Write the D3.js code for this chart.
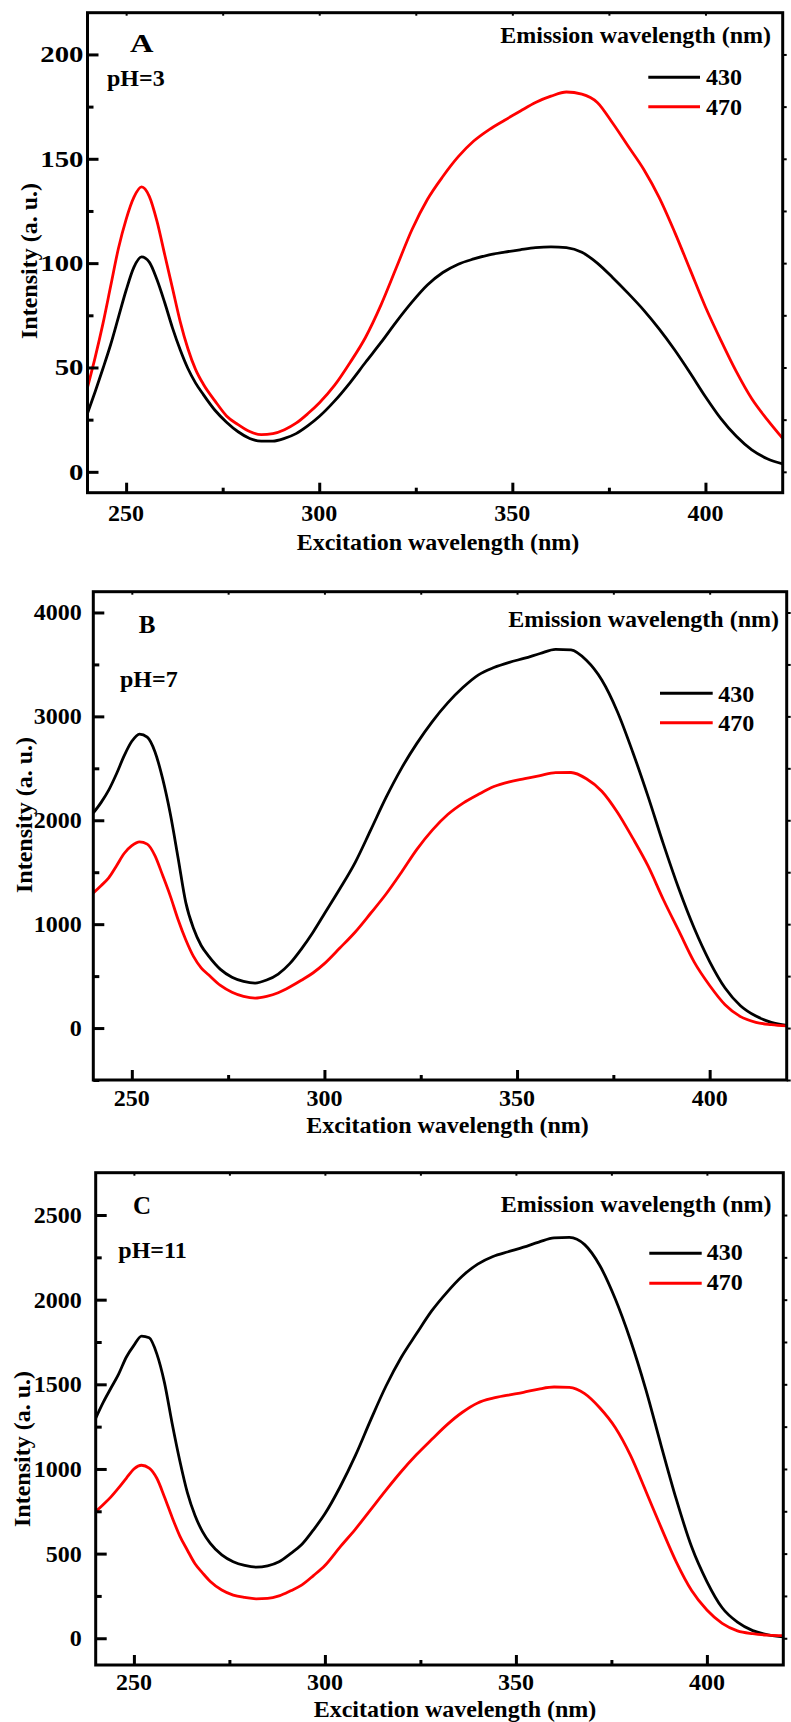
<!DOCTYPE html>
<html><head><meta charset="utf-8">
<script src="https://cdn.jsdelivr.net/npm/d3@7"></script>
<style>
body{margin:0;background:#fff;}
text{font-family:"Liberation Serif","Times New Roman",serif;font-weight:bold;fill:#000;}
</style></head>
<body><svg id="chart" width="791" height="1722"></svg>
<script>
// ---------------- DATA ----------------
const wavelength = [240,242,244,246,248,250,252,254,256,258,260,262,264,266,268,270,273,276,279,282,285,288,291,294,297,300,304,308,312,316,320,324,328,332,336,340,344,348,352,356,360,364,368,372,376,380,384,388,392,396,400,404,408,412,416,420];

const pH3_430 = [28,38.5,49.5,61,74,87,98,103,100.5,92,81,69,58.5,49.5,42.5,37,29.5,23.8,19.2,16,14.7,14.7,16,18.3,22,26.5,34,42.8,52.5,62,72,81.3,89.5,95.5,99.5,102,104,105.3,106.4,107.4,107.8,107.4,105.2,100,93,85.5,77.5,68.5,58.5,47.5,36,25.5,17,10.5,6.3,3.8];
const pH3_470 = [40.5,55,71,89,107,121,131.5,136.5,132,120,104,88,72,59,49,42,34,26.8,22.6,19.3,17.8,18.3,20.2,23.3,27.8,33,41.5,52.4,64.5,80,98,116,130.5,141.5,151,158.5,164,168.5,172.8,177,180,182,181,177,167,156,145,131.5,115,97,79,63,48,35,25,16];

const pH7_430 = [2070,2170,2290,2445,2620,2760,2830,2800,2660,2400,2060,1640,1210,960,795,690,565,490,450,433,462,520,620,760,920,1100,1340,1595,1905,2220,2500,2740,2950,3130,3280,3400,3470,3520,3560,3605,3645,3640,3540,3350,3050,2660,2230,1770,1340,960,640,385,215,115,55,25];
const pH7_470 = [1300,1370,1445,1560,1680,1755,1792,1770,1660,1470,1270,1045,850,690,580,510,410,345,305,288,305,340,395,460,530,620,770,925,1105,1290,1500,1720,1905,2055,2165,2250,2325,2370,2400,2430,2458,2460,2400,2280,2080,1830,1560,1235,935,635,410,225,110,55,33,20];

const pH11_430 = [1300,1395,1478,1560,1660,1730,1785,1775,1680,1510,1270,1050,860,725,628,560,492,452,430,420,428,452,500,555,640,735,895,1080,1290,1490,1660,1800,1935,2045,2140,2210,2255,2283,2310,2340,2365,2368,2325,2200,2005,1760,1470,1140,820,540,335,180,95,45,20,8];
const pH11_470 = [748,790,835,888,945,1000,1022,1005,945,835,715,605,520,440,385,335,285,255,241,233,235,250,280,315,370,430,540,645,760,875,985,1085,1175,1262,1335,1390,1418,1436,1453,1472,1484,1482,1445,1360,1245,1080,870,655,450,282,167,88,44,27,18,15];

const seriesNames = ["430","470"];
const seriesColors = ["#000000","#ff0000"];
const panelLetters = ["A","B","C"];
const pHLabels = ["pH=3","pH=7","pH=11"];
const xTicks = [250,300,350,400];
const xMinorTicks = [275,325,375];
const yTicksA = [0,50,100,150,200];
const yTicksB = [0,1000,2000,3000,4000];
const yTicksC = [0,500,1000,1500,2000,2500];
const xTitle = "Excitation wavelength (nm)";
const yTitle = "Intensity (a. u.)";
const legendTitle = "Emission wavelength (nm)";

// ---------------- LAYOUT ----------------
const panels = [
  {left:87.5, right:782.7, top:12.7, bottom:492.7, ydom:[-10,220], yt:yTicksA, ystep:25, data:[pH3_430,pH3_470],
   ylabGap:4, ylabScale:1.2, ytitle:{x:37,y:261}, xlabY:521, xtitleX:438, xtitleY:550, letter:{x:141.7,y:51.7,sx:1.3}, ph:{x:107,y:86},
   leg:{tx:771, ty:43.3, lx1:648.3, lx2:700, ly:[77.3,106.7], textx:706, texty:[85,115]}},
  {left:93.3, right:786.7, top:591.7, bottom:1080, ydom:[-500,4200], yt:yTicksB, ystep:500, data:[pH7_430,pH7_470],
   ylabGap:11.6, ylabScale:1, ytitle:{x:32,y:815}, xlabY:1106, xtitleX:447.5, xtitleY:1133, letter:{x:147,y:633,sx:1}, ph:{x:120,y:686.7},
   leg:{tx:779, ty:626.7, lx1:660, lx2:712.7, ly:[693.3,722.7], textx:718.3, texty:[701.7,731]}},
  {left:95.7, right:783.3, top:1172.7, bottom:1665, ydom:[-158,2750], yt:yTicksC, ystep:250, data:[pH11_430,pH11_470],
   ylabGap:14, ylabScale:1, ytitle:{x:30,y:1449}, xlabY:1690, xtitleX:455, xtitleY:1716.5, letter:{x:142,y:1214,sx:1}, ph:{x:118.3,y:1258},
   leg:{tx:771.5, ty:1211.7, lx1:649.3, lx2:701.7, ly:[1253.3,1283.3], textx:706.7, texty:[1260,1290]}}
];

const svg = d3.select("#chart");

panels.forEach((p, i) => {
  const x = d3.scaleLinear().domain([240,420]).range([p.left, p.right]);
  const y = d3.scaleLinear().domain(p.ydom).range([p.bottom, p.top]);
  const g = svg.append("g");

  const clipId = "clip" + i;
  svg.append("clipPath").attr("id", clipId).append("rect")
    .attr("x", p.left).attr("y", p.top).attr("width", p.right - p.left).attr("height", p.bottom - p.top);

  // curves
  const line = d3.line().x((d, k) => x(wavelength[k])).y(d => y(d)).curve(d3.curveMonotoneX);
  p.data.forEach((arr, s) => {
    g.append("path").datum(arr).attr("d", line)
      .attr("fill", "none").attr("stroke", seriesColors[s]).attr("stroke-width", 2.8)
      .attr("stroke-linejoin", "round").attr("clip-path", `url(#${clipId})`);
  });

  const yMinor = d3.range(Math.ceil(p.ydom[0] / p.ystep) * p.ystep, p.ydom[1], p.ystep).filter(v => !p.yt.includes(v));

  // left axis (inward ticks)
  g.append("g").attr("transform", `translate(${p.left},0)`)
    .call(d3.axisRight(y).tickValues(p.yt).tickSize(11).tickFormat(""))
    .call(a => a.select(".domain").remove())
    .call(a => a.selectAll("line").attr("stroke-width", 3));
  g.append("g").attr("transform", `translate(${p.left},0)`)
    .call(d3.axisRight(y).tickValues(yMinor).tickSize(6).tickFormat(""))
    .call(a => a.select(".domain").remove())
    .call(a => a.selectAll("line").attr("stroke-width", 3));
  // right axis small ticks
  g.append("g").attr("transform", `translate(${p.right},0)`)
    .call(d3.axisRight(y).tickValues(p.yt.concat(yMinor)).tickSize(4).tickFormat(""))
    .call(a => a.select(".domain").remove())
    .call(a => a.selectAll("line").attr("stroke-width", 2));

  // y tick labels
  g.selectAll(".ylab").data(p.yt).enter().append("text")
    .attr("transform", d => `translate(${p.left - p.ylabGap},${y(d) + 8}) scale(${p.ylabScale},1)`)
    .attr("text-anchor", "end").attr("font-size", 24).text(d => d);

  // bottom axis (inward ticks)
  g.append("g").attr("transform", `translate(0,${p.bottom})`)
    .call(d3.axisTop(x).tickValues(xTicks).tickSize(10).tickFormat(""))
    .call(a => a.select(".domain").remove())
    .call(a => a.selectAll("line").attr("stroke-width", 3));
  g.append("g").attr("transform", `translate(0,${p.bottom})`)
    .call(d3.axisTop(x).tickValues(xMinorTicks).tickSize(5).tickFormat(""))
    .call(a => a.select(".domain").remove())
    .call(a => a.selectAll("line").attr("stroke-width", 3));
  // top axis small ticks
  g.append("g").attr("transform", `translate(0,${p.top})`)
    .call(d3.axisBottom(x).tickValues(xTicks.concat(xMinorTicks)).tickSize(3).tickFormat(""))
    .call(a => a.select(".domain").remove())
    .call(a => a.selectAll("line").attr("stroke-width", 2));

  g.selectAll(".xlab").data(xTicks).enter().append("text")
    .attr("x", d => x(d)).attr("y", p.xlabY)
    .attr("text-anchor", "middle").attr("font-size", 24).text(d => d);

  // frame
  g.append("rect").attr("x", p.left).attr("y", p.top)
    .attr("width", p.right - p.left).attr("height", p.bottom - p.top)
    .attr("fill", "none").attr("stroke", "#000").attr("stroke-width", 3);

  // titles
  g.append("text").attr("x", p.xtitleX).attr("y", p.xtitleY).attr("text-anchor", "middle")
    .attr("font-size", 24).text(xTitle);
  g.append("text").attr("transform", `translate(${p.ytitle.x},${p.ytitle.y}) rotate(-90)`)
    .attr("text-anchor", "middle").attr("font-size", 24).text(yTitle);

  // panel letter and pH
  g.append("text").attr("transform", `translate(${p.letter.x},${p.letter.y}) scale(${p.letter.sx},1)`)
    .attr("text-anchor", "middle").attr("font-size", 25).text(panelLetters[i]);
  g.append("text").attr("x", p.ph.x).attr("y", p.ph.y).attr("font-size", 24).text(pHLabels[i]);

  // legend
  g.append("text").attr("x", p.leg.tx).attr("y", p.leg.ty).attr("text-anchor", "end")
    .attr("font-size", 24).text(legendTitle);
  seriesNames.forEach((nm, s) => {
    g.append("line").attr("x1", p.leg.lx1).attr("x2", p.leg.lx2)
      .attr("y1", p.leg.ly[s]).attr("y2", p.leg.ly[s])
      .attr("stroke", seriesColors[s]).attr("stroke-width", 3);
    g.append("text").attr("x", p.leg.textx).attr("y", p.leg.texty[s]).attr("font-size", 24).text(nm);
  });
});
</script></body></html>
